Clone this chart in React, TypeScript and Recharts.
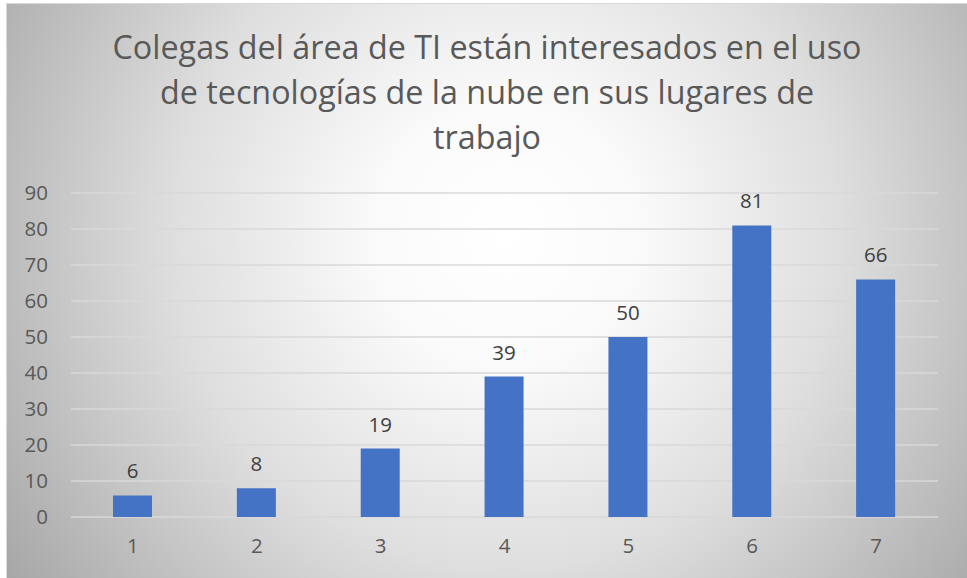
import React from 'react';
import { BarChart, Bar, XAxis, YAxis, CartesianGrid, LabelList } from 'recharts';

const categories = ['1', '2', '3', '4', '5', '6', '7'];
const values = [6, 8, 19, 39, 50, 81, 66];
const yTicks = [0, 10, 20, 30, 40, 50, 60, 70, 80, 90];
const titleLines = [
  'Colegas del área de TI están interesados en el uso',
  'de tecnologías de la nube en sus lugares de',
  'trabajo',
];

const data = categories.map((c, i) => ({ name: c, value: values[i] }));

const FONT = '"Open Sans", "DejaVu Sans", sans-serif';

export default function App() {
  return (
    <div style={{ position: 'absolute', left: 0, top: 0, width: 967, height: 578, background: '#ffffff', overflow: 'hidden', fontFamily: FONT }}>
      <div
        style={{
          position: 'absolute',
          left: 6,
          top: 3,
          width: 962,
          height: 580,
          boxSizing: 'border-box',
          border: '1px solid #d9d9d9',
          background: 'radial-gradient(circle farthest-corner at 52% 40%, #ffffff 0%, #fafafa 22%, #dedede 55%, #a6a6a6 100%)',
        }}
      />
      {titleLines.map((t, i) => (
        <div
          key={i}
          style={{
            position: 'absolute',
            left: 0,
            width: 974,
            top: 25 + i * 45,
            textAlign: 'center',
            fontSize: 32.3,
            lineHeight: '42px',
            color: '#595959',
            whiteSpace: 'nowrap',
          }}
        >
          {t}
        </div>
      ))}
      <div style={{ position: 'absolute', left: 0, top: 0 }}>
        <BarChart width={967} height={578} data={data} margin={{ top: 193, right: 29, bottom: 31, left: 11 }}>
          <CartesianGrid vertical={false} stroke="#d9d9d9" strokeWidth={1.5} />
          <XAxis
            dataKey="name"
            axisLine={false}
            tickLine={false}
            tickSize={0}
            tickMargin={21}
            height={30}
            tick={{ fill: '#595959', fontSize: 20.5, fontFamily: FONT }}
          />
          <YAxis
            domain={[0, 90]}
            ticks={yTicks}
            interval={0}
            axisLine={false}
            tickLine={false}
            tickSize={0}
            tickMargin={23}
            width={60}
            tick={{ fill: '#595959', fontSize: 20.5, fontFamily: FONT }}
          />
          <Bar dataKey="value" fill="#4472C4" barSize={39} isAnimationActive={false}>
            <LabelList dataKey="value" position="top" offset={17} fill="#404040" fontSize={20.5} fontFamily={FONT} />
          </Bar>
        </BarChart>
      </div>
    </div>
  );
}
